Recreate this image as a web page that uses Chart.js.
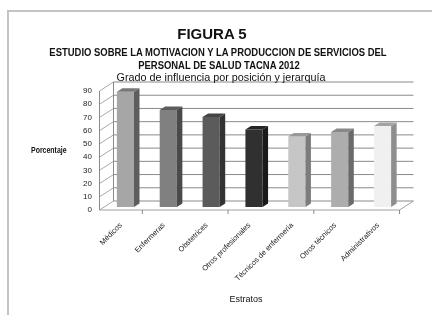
<!DOCTYPE html>
<html>
<head>
<meta charset="utf-8">
<script src="https://cdn.jsdelivr.net/npm/chart.js@4"></script>
<style>
  html, body { margin: 0; padding: 0; background: #fff; }
  #lienzo { position: relative; width: 432px; height: 315px; overflow: hidden; }
  #marco { position: absolute; left: 7px; top: 10px; width: 440px; height: 320px;
           border-top: 2px solid #c4c4c4; border-left: 2px solid #c4c4c4; }
  .txt { position: absolute; width: 432px; text-align: center; white-space: nowrap; color: #111; }
  .estrecho { transform: scaleX(0.9); transform-origin: 216px 0; }
  #grafico { position: absolute; left: 0; top: 0; }
</style>
</head>
<body>
<div id="lienzo">
  <div id="marco"></div>
  <canvas id="grafico" width="432" height="315"></canvas>
  <div class="txt" style="left:-4px; top:25px; font:bold 15px 'Liberation Sans', Arial, sans-serif;">FIGURA 5</div>
  <div class="txt estrecho" style="left:2px; top:46px; font:bold 10.5px 'Liberation Sans', Arial, sans-serif;">ESTUDIO SOBRE LA MOTIVACION Y LA PRODUCCION DE SERVICIOS DEL</div>
  <div class="txt estrecho" style="left:3px; top:59px; font:bold 10.5px 'Liberation Sans', Arial, sans-serif;">PERSONAL DE SALUD TACNA 2012</div>
  <div class="txt" style="left:5px; top:71px; font:10.8px 'Liberation Sans', Arial, sans-serif;">Grado de influencia por posición y jerarquía</div>
  <div class="txt" style="left:31px; top:146px; width:auto; transform:scaleX(0.85); transform-origin:0 0; font:bold 8.2px 'Liberation Sans', Arial, sans-serif;">Porcentaje</div>
  <div class="txt" style="left:30px; top:294px; font:9px 'Liberation Sans', Arial, sans-serif;">Estratos</div>
</div>
<script>
// Datos
const categorias = ['Médicos', 'Enfermeras', 'Obstetrices', 'Otros profesionales', 'Técnicos de enfermería', 'Otros técnicos', 'Administrativos'];
const porcentajes = [87.2, 73.4, 68.1, 58.7, 53.4, 56.8, 61.3];
const ejeMin = 0;
const ejeMax = 90;
const pasoEje = 10;

// Colores de cada barra (frente, lateral, tapa)
const coloresFrente = ['#a6a6a6', '#808080', '#5b5b5b', '#303030', '#c6c6c6', '#adadad', '#f0f0f0'];
const coloresLado = ['#5e5e5e', '#4a4a4a', '#333333', '#1a1a1a', '#7c7c7c', '#6a6a6a', '#8e8e8e'];
const coloresTapa = ['#787878', '#5c5c5c', '#444444', '#242424', '#999999', '#888888', '#a3a3a3'];

// Desplazamientos de la perspectiva 3D
const FX = -4.5, FY = 3;     // borde frontal del suelo
const BX = 9.5, BY = -6;     // pared del fondo
const DX = 5.5, DY = -3.5;   // profundidad de cada barra

function linea(ctx, x1, y1, x2, y2) {
    ctx.beginPath();
    ctx.moveTo(x1, y1);
    ctx.lineTo(x2, y2);
    ctx.stroke();
}

const marco3d = {
    id: 'marco3d',
    beforeDatasetsDraw(chart) {
        const { ctx, chartArea: { left, right }, scales: { x, y } } = chart;
        const y0 = y.getPixelForValue(ejeMin);
        const yTop = y.getPixelForValue(ejeMax);
        ctx.save();
        ctx.lineWidth = 1;
        ctx.strokeStyle = '#8a8a8a';
        // líneas de la pared del fondo y de la pared lateral
        y.ticks.forEach(t => {
            const py = y.getPixelForValue(t.value);
            linea(ctx, left + BX, py + BY, right + BX, py + BY);
            ctx.strokeStyle = '#a8a8a8';
            linea(ctx, left + FX, py + FY, left + BX, py + BY);
            ctx.strokeStyle = '#8a8a8a';
        });
        linea(ctx, left + BX, y0 + BY, left + BX, yTop + BY);
        linea(ctx, left + FX, y0 + FY, left + FX, yTop + FY);
        // suelo
        ctx.strokeStyle = '#a0a0a0';
        linea(ctx, left + FX, y0 + FY, right + FX, y0 + FY);
        linea(ctx, right + FX, y0 + FY, right + BX, y0 + BY);
        // marcas del eje de categorías cada dos estratos
        const mitad = (x.getPixelForValue(1) - x.getPixelForValue(0)) / 2;
        ctx.strokeStyle = '#8a8a8a';
        for (let i = 0; i < categorias.length; i += 2) {
            const px = x.getPixelForValue(i) + mitad + FX;
            linea(ctx, px, y0 + FY, px, y0 + FY + 4);
        }
        ctx.restore();
    },
    afterDatasetsDraw(chart) {
        const ctx = chart.ctx;
        const meta = chart.getDatasetMeta(0);
        ctx.save();
        meta.data.forEach((barra, i) => {
            const w = barra.width / 2;
            // cara lateral
            ctx.fillStyle = coloresLado[i];
            ctx.beginPath();
            ctx.moveTo(barra.x + w, barra.y);
            ctx.lineTo(barra.x + w + DX, barra.y + DY);
            ctx.lineTo(barra.x + w + DX, barra.base + DY);
            ctx.lineTo(barra.x + w, barra.base);
            ctx.closePath();
            ctx.fill();
            // tapa
            ctx.fillStyle = coloresTapa[i];
            ctx.beginPath();
            ctx.moveTo(barra.x - w, barra.y);
            ctx.lineTo(barra.x - w + DX, barra.y + DY);
            ctx.lineTo(barra.x + w + DX, barra.y + DY);
            ctx.lineTo(barra.x + w, barra.y);
            ctx.closePath();
            ctx.fill();
        });
        ctx.restore();
    }
};

const fuenteEje = { family: "'Liberation Sans', Arial, sans-serif", size: 7.5 };

new Chart(document.getElementById('grafico'), {
    type: 'bar',
    data: {
        labels: categorias,
        datasets: [{
            data: porcentajes,
            backgroundColor: coloresFrente,
            borderWidth: 0,
            barPercentage: 0.4,
            categoryPercentage: 1
        }]
    },
    options: {
        responsive: false,
        animation: false,
        devicePixelRatio: 1,
        layout: { padding: { left: 0, right: 28, top: 88, bottom: 0 } },
        plugins: { legend: { display: false }, tooltip: { enabled: false } },
        scales: {
            x: {
                grid: { display: false, drawTicks: false },
                border: { display: false },
                ticks: { autoSkip: false, maxRotation: 45, minRotation: 45, padding: 14, labelOffset: -4.5, font: fuenteEje, color: '#1a1a1a' },
                afterFit: s => { s.height = 108; }
            },
            y: {
                min: ejeMin,
                max: ejeMax,
                grid: { display: false, drawTicks: false },
                border: { display: false },
                ticks: { stepSize: pasoEje, padding: 12, labelOffset: 3, font: { family: "'Liberation Sans', Arial, sans-serif", size: 8 }, color: '#222' },
                afterFit: s => { s.width = 104; }
            }
        }
    },
    plugins: [marco3d]
});
</script>
</body>
</html>
